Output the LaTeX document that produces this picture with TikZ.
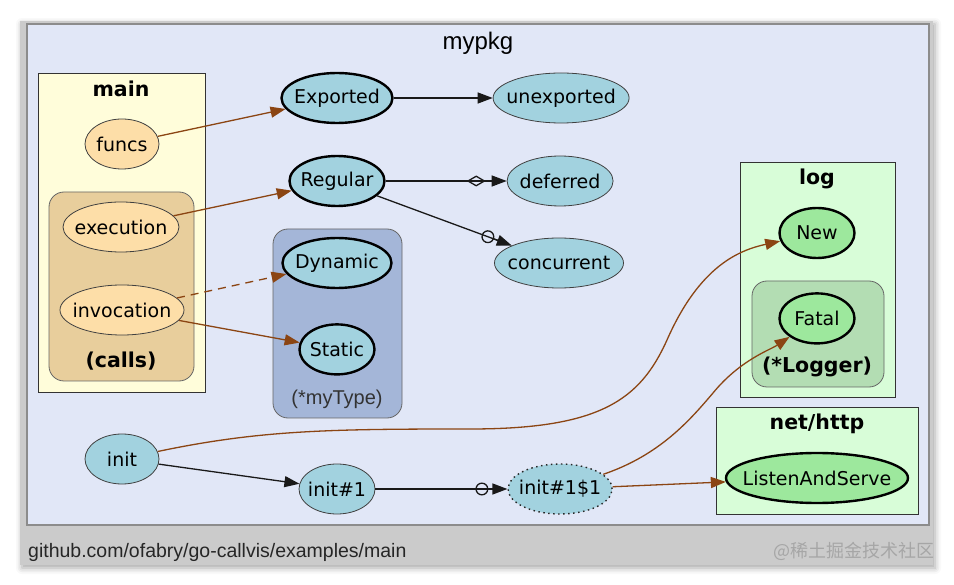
\documentclass[tikz,border=0pt]{standalone}
\usepackage{fontspec}
\usetikzlibrary{positioning,shapes.geometric,arrows.meta,shadows.blur}
\newfontfamily\dejavu{DejaVu Sans}
\newfontfamily\arialfont{Liberation Sans}
\newfontfamily\cjkfont{Noto Sans CJK SC}
\definecolor{outergray}{HTML}{CBCBCB}
\definecolor{pkgbg}{HTML}{E1E7F7}
\definecolor{mainyellow}{HTML}{FFFDDA}
\definecolor{callstan}{HTML}{E8CE9C}
\definecolor{typeblue}{HTML}{A4B6D8}
\definecolor{loggreen}{HTML}{D8FDD8}
\definecolor{loggergreen}{HTML}{B3DDB3}
\definecolor{fnblue}{HTML}{A2D2DF}
\definecolor{fnorange}{HTML}{FDDEA8}
\definecolor{fngreen}{HTML}{9DE89D}
\definecolor{callbrown}{HTML}{8B4513}
\tikzset{
    fn/.style={ellipse, draw=black!75, line width=0.8pt, fill=fnblue, inner sep=0pt,
        minimum height=50pt, minimum width=#1, font=\dejavu\fontsize{19}{22}\selectfont,
        execute at begin node={\hbox to 0pt\bgroup\hss}, execute at end node={\hss\egroup}},
    fn/.default=80pt,
    bold/.style={draw=black, line width=2.4pt},
    dotted border/.style={draw=black!85, line width=1.4pt, dash pattern=on 1.5pt off 3.5pt},
    cluster/.style={draw=black!80, line width=0.9pt},
    subcluster/.style={draw=black!60, line width=0.8pt, rounded corners=15pt},
    plbl/.style={anchor=base, inner sep=0pt, font=\dejavu\bfseries\fontsize{20.5}{24}\selectfont},
    tlbl/.style={anchor=base, inner sep=0pt, text=black!80, font=\arialfont\fontsize{20}{24}\selectfont},
    call/.style={draw=callbrown, line width=1.3pt, -{Triangle[length=15pt,width=11pt]}},
    link/.style={draw=black!90, line width=1.3pt, -{Triangle[length=15pt,width=11pt]}},
    defercall/.style={-{Diamond[open,length=19pt,width=11pt] Rectangle[length=6pt,width=1.3pt,line width=0pt] Triangle[length=15pt,width=11pt]}},
    gocall/.style={-{Circle[open,length=13pt] Rectangle[length=4pt,width=1.3pt,line width=0pt] Triangle[length=15pt,width=11pt]}}
}
\begin{document}
\begin{tikzpicture}[x=1pt, y=-1pt]
    \useasboundingbox (0,0) rectangle (954,585);
    \fill[outergray, blur shadow={shadow xshift=2pt, shadow yshift=-3pt, shadow blur radius=6pt, shadow opacity=35}] (20,21) rectangle (933,565);
    \draw[draw=black!45, line width=1.2pt, fill=pkgbg] (27,24) rectangle (929,525);
    \node[anchor=base, inner sep=0pt, font=\arialfont\fontsize{24}{28}\selectfont] (pkgtitle) at (478,50) {mypkg};
    \node[anchor=base west, inner sep=0pt, text=black!85, font=\arialfont\fontsize{19.5}{23}\selectfont] (footer) at (28,557) {github.com/ofabry/go-callvis/examples/main};
    \node[anchor=base east, inner sep=0pt, text=black!35, font=\cjkfont\fontsize{18}{22}\selectfont] (mark) at (935,557) {@稀土掘金技术社区};

    \draw[cluster, fill=mainyellow] (38,73) rectangle (205,392);
    \draw[subcluster, fill=callstan] (49,192) rectangle (194,381);
    \draw[subcluster, fill=typeblue] (273,229) rectangle (402,418);
    \draw[cluster, fill=loggreen] (740,162) rectangle (895,397);
    \draw[subcluster, fill=loggergreen] (752,281) rectangle (884,387);
    \draw[cluster, fill=loggreen] (716,407) rectangle (918,514);

    \node[plbl] (mainlbl) at (121,97) {main};
    \node[plbl] (callslbl) at (121,368) {(calls)};
    \node[tlbl] (typelbl) at (337,405) {(*myType)};
    \node[plbl] (loglbl) at (817,185) {log};
    \node[plbl] (loggerlbl) at (817,373) {(*Logger)};
    \node[plbl] (httplbl) at (817,430) {net/http};

    \node[fn=74pt, fill=fnorange] (funcs) at (122,144) {funcs};
    \node[fn=116pt, fill=fnorange] (execution) at (121,227) {execution};
    \node[fn=124pt, fill=fnorange] (invocation) at (122,310) {invocation};
    \node[fn=111pt, bold] (Exported) at (337,98) {Exported};
    \node[fn=136pt, right=99pt of Exported] (unexported) {unexported};
    \node[fn=95pt, bold] (Regular) at (337,181) {Regular};
    \node[fn=106pt, right=121pt of Regular] (deferred) {deferred};
    \node[fn=129pt] (concurrent) at (559,263) {concurrent};
    \node[fn=109pt, bold] (Dynamic) at (337,263) {Dynamic};
    \node[fn=75pt, bold, below=34pt of Dynamic] (Static) {Static};
    \node[fn=75pt, bold, fill=fngreen] (New) at (817,233) {New};
    \node[fn=75pt, bold, fill=fngreen, below=33pt of New] (Fatal) {Fatal};
    \node[fn=182pt, bold, fill=fngreen] (ListenAndServe) at (817,478) {ListenAndServe};
    \node[fn=74pt] (init) at (122,459) {init};
    \node[fn=76pt] (init1) at (337,489) {init\#1};
    \node[fn=104pt, dotted border, right=132pt of init1] (init11) {init\#1\$1};

    \draw[call] (funcs) -- (Exported);
    \draw[call] (execution) -- (Regular);
    \draw[call, dash pattern=on 8pt off 6pt] (invocation) -- (Dynamic);
    \draw[call] (invocation) -- (Static);
    \draw[link] (Exported) -- (unexported);
    \draw[link, defercall] (Regular) -- (deferred);
    \draw[link, gocall] (Regular) -- (concurrent);
    \draw[link] (init) -- (init1);
    \draw[link, gocall] (init1) -- (init11);
    \draw[call] (init) .. controls (260,430) and (330,429) .. (470,429) .. controls (600,429) and (640,400) .. (667,340) .. controls (700,265) and (740,250) .. (New);
    \draw[call] (init11) .. controls (660,455) and (690,420) .. (713,393) .. controls (740,360) and (770,350) .. (Fatal);
    \draw[call] (init11) -- (ListenAndServe);
\end{tikzpicture}
\end{document}
